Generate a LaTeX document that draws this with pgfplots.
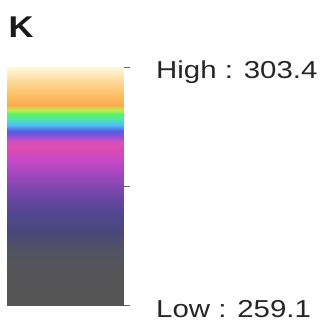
\documentclass[border=0pt]{standalone}
\usepackage{fontspec}
\setmainfont{Liberation Sans}
\newfontfamily\labfont[FakeStretch=1.2]{Liberation Sans}
\newfontfamily\titfont[FakeStretch=1.15]{Liberation Sans Bold}
\usepackage{pgfplots}
\pgfplotsset{compat=1.18}
\pgfplotsset{colormap={kbar}{
rgb255(0pt)=(85,85,85)
rgb255(35pt)=(85,85,88)
rgb255(55pt)=(82,82,100)
rgb255(73pt)=(74,72,122)
rgb255(90pt)=(80,70,142)
rgb255(105pt)=(100,70,160)
rgb255(117pt)=(128,70,176)
rgb255(130pt)=(160,70,192)
rgb255(145pt)=(200,72,200)
rgb255(157pt)=(222,76,176)
rgb255(163pt)=(215,80,190)
rgb255(168pt)=(150,80,215)
rgb255(174pt)=(80,96,224)
rgb255(180pt)=(80,190,240)
rgb255(186pt)=(80,232,170)
rgb255(191pt)=(96,240,96)
rgb255(195pt)=(200,232,80)
rgb255(200pt)=(252,170,80)
rgb255(210pt)=(252,190,100)
rgb255(223pt)=(253,216,152)
rgb255(235pt)=(255,243,208)
rgb255(238pt)=(255,248,225)
}}
\begin{document}
\begin{tikzpicture}[x=1pt,y=1pt]
\useasboundingbox (-7,-20) rectangle (320,305);
\begin{axis}[
  at={(0,0)}, anchor=south west,
  scale only axis, width=117pt, height=238pt,
  view={0}{90},
  xmin=0, xmax=1, ymin=259.1, ymax=303.4,
  enlargelimits=false,
  axis x line=none,
  axis y line*=right,
  y axis line style={draw=none},
  tick align=outside,
  major tick length=6pt,
  ytick={259.1,281.25,303.4},
  yticklabels={Low : 259.1,{},High : 303.4},
  ytick style={draw=black!60, line width=0.8pt},
  yticklabel style={font=\labfont\fontsize{24.5}{28}\selectfont, text=black!85, anchor=base west, inner sep=0pt, xshift=26pt, yshift=-12pt},
  colormap name=kbar,
  point meta min=259.1, point meta max=303.4,
]
\addplot3[surf, shader=interp, point meta=y] coordinates {
(0,259.1,0) (1,259.1,0)

(0,303.4,0) (1,303.4,0)
};
\end{axis}
\node[anchor=base west, inner sep=0pt, font=\titfont\fontsize{30}{34}\selectfont, text=black!90] at (1.5,268) {K};
\end{tikzpicture}
\end{document}
